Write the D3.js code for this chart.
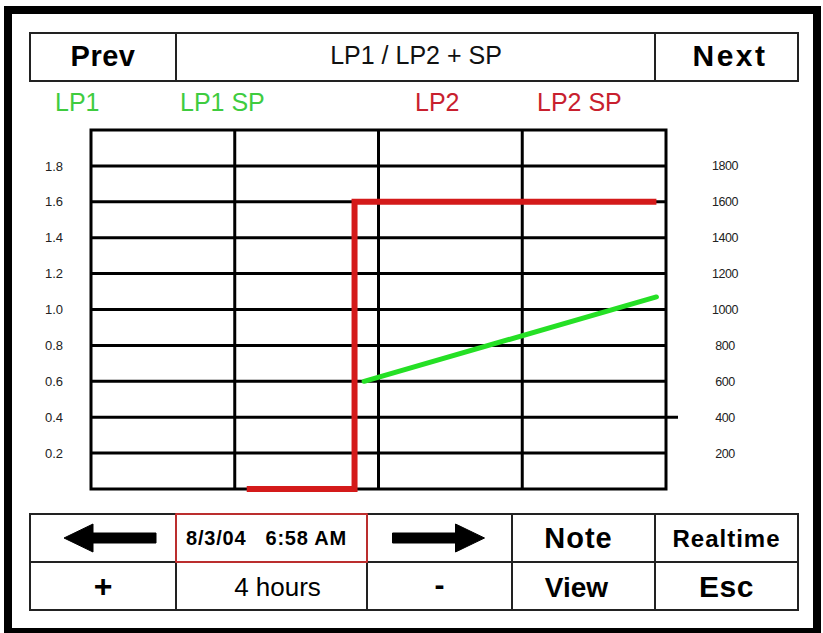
<!DOCTYPE html>
<html>
<head>
<meta charset="utf-8">
<script src="https://cdn.jsdelivr.net/npm/d3@7"></script>
<style>
  body { margin: 0; background: #fff; }
  svg { display: block; font-family: "Liberation Sans", Arial, sans-serif; }
</style>
</head>
<body>
<script>
const width = 823;
const height = 633;

// chart data (time in minutes from window start, values on left axis)
const lp1Times = [114, 236];
const lp1Values = [0.6, 1.07];
const lp2SpTimes = [65, 110, 110, 236];
const lp2SpValues = [0, 0, 1.6, 1.6];

const leftTicks = [0.2, 0.4, 0.6, 0.8, 1.0, 1.2, 1.4, 1.6, 1.8];
const rightTicks = [200, 400, 600, 800, 1000, 1200, 1400, 1600, 1800];
const hourTicks = [60, 120, 180];
const longTicks = [0.4];

const legendLabels = ['LP1', 'LP1 SP', 'LP2', 'LP2 SP'];
const legendColors = ['#3fcc3f', '#3fcc3f', '#c8202e', '#c8202e'];
const legendX = [55, 180, 415, 537];

const title = 'LP1 / LP2 + SP';
const dateLabel = '8/3/04   6:58 AM';
const spanLabel = '4 hours';

const plot = {left: 91, right: 666, top: 130, bottom: 489};

const svg = d3.select('body').append('svg')
    .attr('width', width)
    .attr('height', height);

svg.append('rect').attr('width', width).attr('height', height).attr('fill', '#fff');

// outer frame
svg.append('rect')
    .attr('x', 8).attr('y', 10)
    .attr('width', 809).attr('height', 622)
    .attr('fill', 'none').attr('stroke', '#000').attr('stroke-width', 8);

// top button bar
const topBar = svg.append('g');
topBar.append('rect').attr('x', 30).attr('y', 33).attr('width', 768).attr('height', 48)
    .attr('fill', 'none').attr('stroke', '#222').attr('stroke-width', 2);
[176, 655].forEach(x => {
    topBar.append('line').attr('x1', x).attr('x2', x).attr('y1', 33).attr('y2', 81)
        .attr('stroke', '#222').attr('stroke-width', 2);
});
topBar.append('text').text('Prev').attr('x', 103).attr('y', 66)
    .attr('text-anchor', 'middle').attr('font-weight', 'bold').attr('font-size', 29)
    .attr('letter-spacing', 0.5);
topBar.append('text').text('Next').attr('x', 730).attr('y', 66)
    .attr('text-anchor', 'middle').attr('font-weight', 'bold').attr('font-size', 30)
    .attr('letter-spacing', 2.5);
topBar.append('text').text(title).attr('x', 416).attr('y', 64)
    .attr('text-anchor', 'middle').attr('font-size', 25).attr('fill', '#111');

// legend
svg.selectAll('text.legend').data(legendLabels)
    .enter().append('text')
    .attr('class', 'legend')
    .attr('x', (d, i) => legendX[i])
    .attr('y', 111)
    .attr('font-size', 25)
    .attr('fill', (d, i) => legendColors[i])
    .text(d => d);

// scales
const x = d3.scaleLinear().domain([0, 240]).range([plot.left, plot.right]);
const y = d3.scaleLinear().domain([0, 2]).range([plot.bottom, plot.top]);
const y2 = d3.scaleLinear().domain([0, 2000]).range([plot.bottom, plot.top]);

// grid
const grid = svg.append('g');
grid.selectAll('line.h').data(leftTicks).enter().append('line')
    .attr('x1', plot.left)
    .attr('x2', d => longTicks.includes(d) ? plot.right + 12 : plot.right)
    .attr('y1', d => y(d)).attr('y2', d => y(d))
    .attr('stroke', '#000').attr('stroke-width', 3);
grid.selectAll('line.v').data(hourTicks).enter().append('line')
    .attr('x1', d => x(d)).attr('x2', d => x(d))
    .attr('y1', plot.top).attr('y2', plot.bottom)
    .attr('stroke', '#000').attr('stroke-width', 3);
grid.append('rect')
    .attr('x', plot.left).attr('y', plot.top)
    .attr('width', plot.right - plot.left).attr('height', plot.bottom - plot.top)
    .attr('fill', 'none').attr('stroke', '#000').attr('stroke-width', 3);

// axis labels
const leftAxis = d3.axisLeft(y).tickValues(leftTicks).tickFormat(d3.format('.1f')).tickSize(0);
svg.append('g').attr('transform', `translate(${54},0)`).call(leftAxis)
    .call(g => g.select('.domain').remove())
    .selectAll('text')
    .attr('x', 0).attr('text-anchor', 'middle')
    .attr('font-family', '"Liberation Sans", Arial, sans-serif')
    .attr('font-size', 13).attr('fill', '#222');

const rightAxis = d3.axisRight(y2).tickValues(rightTicks).tickFormat(d3.format('d')).tickSize(0);
svg.append('g').attr('transform', `translate(${725},0)`).call(rightAxis)
    .call(g => g.select('.domain').remove())
    .selectAll('text')
    .attr('x', 0).attr('text-anchor', 'middle')
    .attr('font-family', '"Liberation Sans", Arial, sans-serif')
    .attr('font-size', 12.5).attr('letter-spacing', -0.5).attr('fill', '#222');

// series
const line = d3.line().x(d => x(d[0])).y(d => y(d[1]));

svg.append('path')
    .datum(d3.zip(lp1Times, lp1Values))
    .attr('d', line)
    .attr('fill', 'none').attr('stroke', '#25e025').attr('stroke-width', 5)
    .attr('stroke-linecap', 'round');

svg.append('path')
    .datum(d3.zip(lp2SpTimes, lp2SpValues))
    .attr('d', line)
    .attr('fill', 'none').attr('stroke', '#d41a1a').attr('stroke-width', 6)
    .attr('stroke-linejoin', 'miter');

// bottom button bar
const cols = [30, 176, 367, 512, 655, 798];
const rows = [514, 562, 610];
const bar = svg.append('g');
bar.append('rect').attr('x', cols[0]).attr('y', rows[0])
    .attr('width', cols[5] - cols[0]).attr('height', rows[2] - rows[0])
    .attr('fill', 'none').attr('stroke', '#222').attr('stroke-width', 2);
bar.append('line').attr('x1', cols[0]).attr('x2', cols[5]).attr('y1', rows[1]).attr('y2', rows[1])
    .attr('stroke', '#222').attr('stroke-width', 2);
cols.slice(1, 5).forEach(cx => {
    bar.append('line').attr('x1', cx).attr('x2', cx).attr('y1', rows[0]).attr('y2', rows[2])
        .attr('stroke', '#222').attr('stroke-width', 2);
});
bar.append('rect').attr('x', cols[1]).attr('y', rows[0])
    .attr('width', cols[2] - cols[1]).attr('height', rows[1] - rows[0])
    .attr('fill', 'none').attr('stroke', '#e33').attr('stroke-width', 1.5);

const mid = i => (cols[i] + cols[i + 1]) / 2;
const r1 = 538, r2 = 586;

// arrows
function arrow(cx, dir) {
    const half = 48, head = 29, hh = 14, sh = 5;
    const tip = cx + dir * half, tail = cx - dir * (half - 4), base = tip - dir * head;
    return `M${tip},${r1} L${base},${r1 - hh} L${base},${r1 - sh} L${tail},${r1 - sh} ` +
        `L${tail},${r1 + sh} L${base},${r1 + sh} L${base},${r1 + hh} Z`;
}
bar.append('path').attr('d', arrow(mid(0) + 9, -1)).attr('fill', '#000')
    .attr('stroke', '#000').attr('stroke-width', 1).attr('stroke-linejoin', 'round');
bar.append('path').attr('d', arrow(mid(2) - 3, 1)).attr('fill', '#000')
    .attr('stroke', '#000').attr('stroke-width', 1).attr('stroke-linejoin', 'round');

bar.append('text').text(dateLabel).attr('x', mid(1) - 5).attr('y', r1 + 7)
    .attr('text-anchor', 'middle').attr('font-weight', 'bold').attr('font-size', 20)
    .attr('letter-spacing', 0.8).style('white-space', 'pre');
bar.append('text').text('Note').attr('x', mid(3) - 5).attr('y', r1 + 10)
    .attr('text-anchor', 'middle').attr('font-weight', 'bold').attr('font-size', 29)
    .attr('letter-spacing', 1);
bar.append('text').text('Realtime').attr('x', mid(4)).attr('y', r1 + 9)
    .attr('text-anchor', 'middle').attr('font-weight', 'bold').attr('font-size', 24)
    .attr('letter-spacing', 1);

bar.append('text').text('+').attr('x', mid(0)).attr('y', r2 + 11)
    .attr('text-anchor', 'middle').attr('font-weight', 'bold').attr('font-size', 32);
bar.append('text').text(spanLabel).attr('x', mid(1) + 6).attr('y', r2 + 10)
    .attr('text-anchor', 'middle').attr('font-size', 26);
bar.append('text').text('-').attr('x', mid(2)).attr('y', r2 + 9)
    .attr('text-anchor', 'middle').attr('font-weight', 'bold').attr('font-size', 30);
bar.append('text').text('View').attr('x', mid(3) - 7).attr('y', r2 + 11)
    .attr('text-anchor', 'middle').attr('font-weight', 'bold').attr('font-size', 28);
bar.append('text').text('Esc').attr('x', mid(4)).attr('y', r2 + 11)
    .attr('text-anchor', 'middle').attr('font-weight', 'bold').attr('font-size', 30)
    .attr('letter-spacing', 0.5);
</script>
</body>
</html>
